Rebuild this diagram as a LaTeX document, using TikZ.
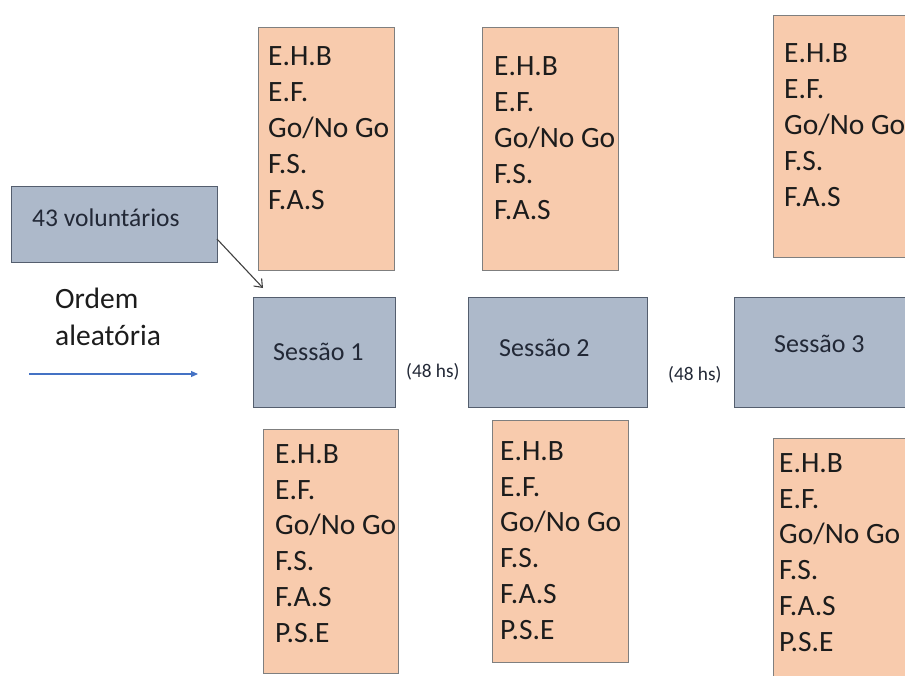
\documentclass[tikz,border=0pt]{standalone}
\usepackage{fontspec}
\setmainfont{Carlito}
\usetikzlibrary{arrows.meta}
\definecolor{orfill}{RGB}{248,203,173}
\definecolor{ordraw}{RGB}{127,127,127}
\definecolor{sefill}{RGB}{173,185,202}
\definecolor{sedraw}{RGB}{84,94,110}
\definecolor{txtdark}{RGB}{28,28,28}
\definecolor{txtsess}{RGB}{34,40,54}
\definecolor{arrgray}{RGB}{64,64,64}
\definecolor{arrblue}{RGB}{68,114,196}
\tikzset{
  obox/.style={draw=ordraw, fill=orfill, line width=1.1pt, anchor=north west, inner sep=0pt},
  sbox/.style={draw=sedraw, fill=sefill, line width=1.3pt, anchor=north west, inner sep=0pt},
  listtop/.style={anchor=north west, inner sep=0pt, align=left, text=txtdark,
    font=\fontsize{29.5pt}{36pt}\selectfont},
  listbot/.style={anchor=north west, inner sep=0pt, align=left, text=txtdark,
    font=\fontsize{29.5pt}{35.7pt}\selectfont},
  sesstxt/.style={anchor=base west, inner sep=0pt, text=txtsess, font=\fontsize{26pt}{31pt}\selectfont},
  hstxt/.style={anchor=base west, inner sep=0pt, text=txtsess, font=\fontsize{19.3pt}{23pt}\selectfont},
}
\begin{document}
\begin{tikzpicture}[x=1pt,y=-1pt]
\useasboundingbox (0,0) rectangle (905,675);
\clip (0,0) rectangle (905,675);
% top boxes
\node[obox, minimum width=136pt, minimum height=243pt] (t1) at (258,27) {};
\node[obox, minimum width=136pt, minimum height=243pt] (t2) at (482,27) {};
\node[obox, minimum width=200pt, minimum height=242pt] (t3) at (773,15) {};
\node[listtop] (t1txt) at (268,46.4) {E.H.B\\E.F.\\Go/No Go\\F.S.\\F.A.S};
\node[listtop] (t2txt) at (494,56.4) {E.H.B\\E.F.\\Go/No Go\\F.S.\\F.A.S};
\node[listtop] (t3txt) at (784,43.4) {E.H.B\\E.F.\\Go/No Go\\F.S.\\F.A.S};
% sessions
\node[sbox, minimum width=142pt, minimum height=110pt] (s1) at (253,297) {};
\node[sbox, minimum width=179pt, minimum height=110pt] (s2) at (468,297) {};
\node[sbox, minimum width=220pt, minimum height=110pt] (s3) at (734,297) {};
\node[sesstxt] (s1txt) at (273,360) {Sessão 1};
\node[sesstxt] (s2txt) at (499,356) {Sessão 2};
\node[sesstxt] (s3txt) at (774,352) {Sessão 3};
\node[hstxt] (h1) at (406,377) {(48 hs)};
\node[hstxt] (h2) at (668,380) {(48 hs)};
% bottom boxes
\node[obox, minimum width=135pt, minimum height=244pt] (b1) at (263,429) {};
\node[obox, minimum width=136pt, minimum height=242pt] (b2) at (492,420) {};
\node[obox, minimum width=200pt, minimum height=260pt] (b3) at (773,438) {};
\node[listbot] (b1txt) at (275,444.4) {E.H.B\\E.F.\\Go/No Go\\F.S.\\F.A.S\\P.S.E};
\node[listbot] (b2txt) at (500,441.4) {E.H.B\\E.F.\\Go/No Go\\F.S.\\F.A.S\\P.S.E};
\node[listbot] (b3txt) at (779,453.4) {E.H.B\\E.F.\\Go/No Go\\F.S.\\F.A.S\\P.S.E};
% volunteers
\node[sbox, minimum width=206pt, minimum height=76pt] (vol) at (11,186) {};
\node[sesstxt, font=\fontsize{25.5pt}{30pt}\selectfont] (voltxt) at (32,226) {43 voluntários};
\node[anchor=north west, inner sep=0pt, align=left, text=txtdark,
  font=\fontsize{29.5pt}{37pt}\selectfont] (ordem) at (55,288) {Ordem\\aleatória};
% arrows
\coordinate (a1s) at (217,239);
\coordinate (a1e) at (263,288);
\draw[arrgray, line width=1.1pt, -{Straight Barb[length=7pt,width=11pt]}] (a1s) -- (a1e);
\coordinate (a2s) at (29,374);
\coordinate (a2e) at (198,374);
\draw[arrblue, line width=1.1pt, -{Triangle[length=7pt,width=6pt]}] (a2s) -- (a2e);
\end{tikzpicture}
\end{document}
